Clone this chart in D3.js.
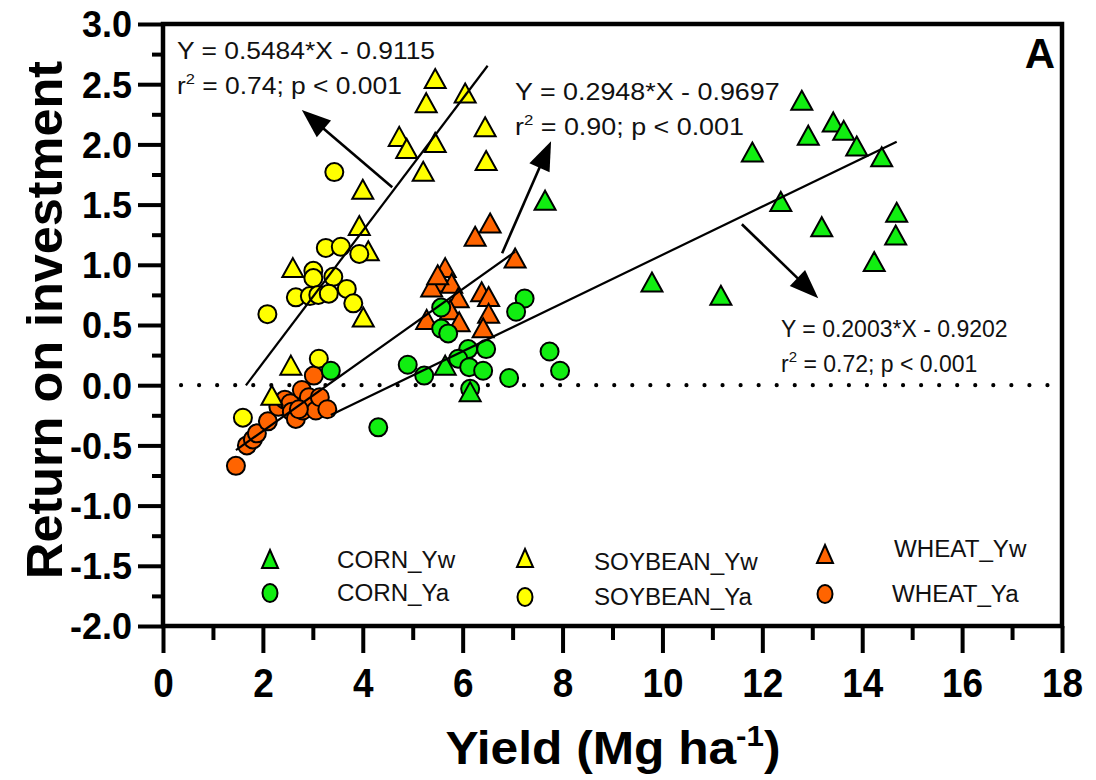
<!DOCTYPE html>
<html><head><meta charset="utf-8">
<script src="https://cdn.jsdelivr.net/npm/d3@7/dist/d3.min.js"></script>
<style>body{margin:0;background:#fff}svg{display:block}</style>
</head><body><svg id="c" width="1096" height="780"></svg>
<script>
// ---------------- DATA ----------------
const cornYwX = [12.79,13.42,12.92,13.63,13.89,14.39,11.80,12.37,14.69,13.19,14.67,14.24,9.79,11.17,7.65,5.65,6.15];
const cornYwY = [2.35,2.17,2.06,2.10,1.97,1.88,1.92,1.51,1.42,1.30,1.23,1.01,0.84,0.73,1.52,0.15,-0.07];
const cornYaX = [5.57,5.57,5.71,7.24,7.07,6.11,6.47,5.91,6.13,6.41,4.90,5.23,6.93,7.74,7.95,6.15,4.31,3.36];
const cornYaY = [0.645,0.47,0.43,0.72,0.61,0.30,0.30,0.22,0.15,0.12,0.17,0.08,0.06,0.28,0.12,-0.03,-0.35,0.12];
const soyYwX = [5.45,5.27,6.05,4.73,4.88,5.45,5.21,6.45,6.47,4.00,3.93,4.11,2.60,4.01,2.56,2.18];
const soyYwY = [2.53,2.33,2.41,2.05,1.95,2.00,1.76,2.13,1.85,1.61,1.31,1.10,0.96,0.55,0.15,-0.10];
const soyYaX = [3.43,3.26,3.56,3.93,3.01,3.01,3.41,3.68,2.66,2.94,3.11,3.32,3.81,2.09,3.12,1.60];
const soyYaY = [1.77,1.14,1.15,1.09,0.95,0.89,0.90,0.80,0.73,0.74,0.75,0.76,0.68,0.59,0.22,-0.27];
const wheatYwX = [6.55,6.25,7.05,5.65,5.58,5.38,5.78,5.91,6.38,6.52,6.52,6.41,5.28,5.75,5.93,5.50];
const wheatYwY = [1.33,1.22,1.04,0.96,0.84,0.80,0.83,0.71,0.76,0.72,0.58,0.46,0.53,0.61,0.51,0.90];
const wheatYaX = [1.46,1.68,1.80,1.88,2.10,2.31,2.44,2.55,2.58,2.66,2.78,2.80,2.92,3.02,3.06,3.14,3.29,2.72];
const wheatYaY = [-0.67,-0.50,-0.45,-0.40,-0.30,-0.18,-0.12,-0.15,-0.22,-0.28,-0.04,-0.21,-0.10,0.08,-0.21,-0.10,-0.20,-0.20];

const seriesNames = ["CORN_Yw","CORN_Ya","SOYBEAN_Yw","SOYBEAN_Ya","WHEAT_Yw","WHEAT_Ya"];

// regression fits: slope, intercept, x-range drawn
const fitSlopes = [0.5484, 0.2948, 0.2003];
const fitIntercepts = [-0.9115, -0.9697, -0.9202];
const fitFrom = [1.66, 1.46, 3.36];
const fitTo = [6.50, 7.05, 14.69];
const fitLine1 = ["Y = 0.5484*X - 0.9115", "Y = 0.2948*X - 0.9697", "Y = 0.2003*X - 0.9202"];
const fitR2 = ["0.74", "0.90", "0.72"];

const xTickValues = [0,2,4,6,8,10,12,14,16,18];
const xMinorTicks = [1,3,5,7,9,11,13,15,17];
const yTickValues = [-2.0,-1.5,-1.0,-0.5,0.0,0.5,1.0,1.5,2.0,2.5,3.0];
const yMinorTicks = [-1.75,-1.25,-0.75,-0.25,0.25,0.75,1.25,1.75,2.25,2.75];

// ---------------- LAYOUT ----------------
const FONT = "'Liberation Sans', Arial, Helvetica, sans-serif";
const svg = d3.select("#c");
const x = d3.scaleLinear().domain([0,18]).range([163,1062]);
const y = d3.scaleLinear().domain([-2,3]).range([626,24]);

const colors = {CORN:"#11ee11", SOYBEAN:"#ffff00", WHEAT:"#ff6400"};
const triPath = "M0,-11.5L10.5,7.5L-10.5,7.5Z";
const triPathSmall = "M0,-10L8,8L-8,8Z";

// ---------- zero dotted line ----------
svg.append("line")
  .attr("x1", x(0)).attr("x2", x(18)).attr("y1", y(0)).attr("y2", y(0))
  .attr("stroke","#000").attr("stroke-width",4.2).attr("stroke-linecap","round")
  .attr("stroke-dasharray","0 18.05");

// ---------- points ----------
const series = [
  {name:"WHEAT_Ya", shape:"circle", color:colors.WHEAT, xs:wheatYaX, ys:wheatYaY},
  {name:"WHEAT_Yw", shape:"tri", color:colors.WHEAT, xs:wheatYwX, ys:wheatYwY},
  {name:"SOYBEAN_Yw", shape:"tri", color:colors.SOYBEAN, xs:soyYwX, ys:soyYwY},
  {name:"SOYBEAN_Ya", shape:"circle", color:colors.SOYBEAN, xs:soyYaX, ys:soyYaY},
  {name:"CORN_Ya", shape:"circle", color:colors.CORN, xs:cornYaX, ys:cornYaY},
  {name:"CORN_Yw", shape:"tri", color:colors.CORN, xs:cornYwX, ys:cornYwY}
];
series.forEach(s => {
  const pts = s.xs.map((v,i)=>({x:v, y:s.ys[i]}));
  const g = svg.append("g");
  if (s.shape === "circle") {
    g.selectAll("circle").data(pts).join("circle")
      .attr("cx", d=>x(d.x)).attr("cy", d=>y(d.y)).attr("r", 9)
      .attr("fill", s.color).attr("stroke","#000").attr("stroke-width",2);
  } else {
    g.selectAll("path").data(pts).join("path")
      .attr("d", triPath)
      .attr("transform", d=>`translate(${x(d.x)},${y(d.y)})`)
      .attr("fill", s.color).attr("stroke","#000").attr("stroke-width",2).attr("stroke-linejoin","miter");
  }
});

// ---------- regression lines ----------
fitSlopes.forEach((m,i)=>{
  const x0 = fitFrom[i], x1 = fitTo[i];
  svg.append("line")
    .attr("x1", x(x0)).attr("y1", y(m*x0+fitIntercepts[i]))
    .attr("x2", x(x1)).attr("y2", y(m*x1+fitIntercepts[i]))
    .attr("stroke","#000").attr("stroke-width",2.2);
});

// ---------- arrows (data coordinates of start and tip) ----------
const arrowFrom = [[4.59,1.645],[6.79,1.096],[11.59,1.337]];
const arrowTo = [[2.78,2.285],[7.77,2.027],[13.12,0.723]];
arrowFrom.forEach((a,i)=>{
  const sx = x(a[0]), sy = y(a[1]), tx = x(arrowTo[i][0]), ty = y(arrowTo[i][1]);
  const ang = Math.atan2(ty-sy, tx-sx);
  const L = 29, W = 11;
  const bx = tx - L*Math.cos(ang), by = ty - L*Math.sin(ang);
  svg.append("line").attr("x1",sx).attr("y1",sy).attr("x2",bx+3*Math.cos(ang)).attr("y2",by+3*Math.sin(ang))
    .attr("stroke","#000").attr("stroke-width",2.6);
  const p1 = [bx + W*Math.sin(ang), by - W*Math.cos(ang)];
  const p2 = [bx - W*Math.sin(ang), by + W*Math.cos(ang)];
  svg.append("path").attr("d",`M${tx},${ty}L${p1[0]},${p1[1]}L${p2[0]},${p2[1]}Z`).attr("fill","#000");
});

// ---------- annotations ----------
const annPos = [[177,59],[515,100],[781,337]];
const annScale = [1.1,1.12,1.0];
const annGap = 35;
annPos.forEach((p,i)=>{
  const g = svg.append("g").attr("transform",`translate(${p[0]},${p[1]}) scale(${annScale[i]},1)`)
    .attr("font-family",FONT).attr("font-size",i<2?24:23).attr("fill","#111");
  g.append("text").attr("x",0).attr("y",0).text(fitLine1[i]);
  const t = g.append("text").attr("x",0).attr("y",annGap);
  t.append("tspan").text("r");
  t.append("tspan").attr("font-size",15).attr("dy",-10).text("2");
  t.append("tspan").attr("dy",10).text(" = " + fitR2[i] + "; p < 0.001");
});

// ---------- axes ----------
const yAxis = d3.axisLeft(y).tickValues(yTickValues).tickSize(25).tickPadding(6)
  .tickFormat(d=>d.toFixed(1));
const gy = svg.append("g").attr("transform",`translate(${x(0)},0)`).call(yAxis);
gy.select(".domain").remove();
gy.selectAll(".tick line").attr("stroke","#000").attr("stroke-width",4);
gy.selectAll(".tick text").attr("font-family",FONT).attr("font-weight","bold").attr("font-size",36)
  .attr("fill","#000").attr("dy","0.36em");
const gy2 = svg.append("g").attr("transform",`translate(${x(0)},0)`)
  .call(d3.axisLeft(y).tickValues(yMinorTicks).tickSize(11).tickFormat(""));
gy2.select(".domain").remove();
gy2.selectAll(".tick line").attr("stroke","#000").attr("stroke-width",4);

const xAxis = d3.axisBottom(x).tickValues(xTickValues).tickSize(27).tickPadding(15).tickFormat(d3.format("d"));
const gx = svg.append("g").attr("transform",`translate(0,${y(-2)})`).call(xAxis);
gx.select(".domain").remove();
gx.selectAll(".tick line").attr("stroke","#000").attr("stroke-width",4);
gx.selectAll(".tick text").attr("font-family",FONT).attr("font-weight","bold").attr("font-size",41)
  .attr("fill","#000").attr("transform","scale(0.9,1)");
const gx2 = svg.append("g").attr("transform",`translate(0,${y(-2)})`)
  .call(d3.axisBottom(x).tickValues(xMinorTicks).tickSize(14).tickFormat(""));
gx2.select(".domain").remove();
gx2.selectAll(".tick line").attr("stroke","#000").attr("stroke-width",4);

// frame
svg.append("rect").attr("x",x(0)).attr("y",y(3)).attr("width",x(18)-x(0)).attr("height",y(-2)-y(3))
  .attr("fill","none").attr("stroke","#000").attr("stroke-width",4.5);

// axis titles
svg.append("text").attr("transform","translate(62,320) rotate(-90)")
  .attr("text-anchor","middle").attr("font-family",FONT).attr("font-weight","bold").attr("font-size",50)
  .attr("textLength",518).attr("lengthAdjust","spacingAndGlyphs")
  .text("Return on investment");
const xt = svg.append("text").attr("transform","translate(613,764) scale(1.08,1)")
  .attr("text-anchor","middle").attr("font-family",FONT).attr("font-weight","bold").attr("font-size",46);
xt.append("tspan").text("Yield (Mg ha");
xt.append("tspan").attr("font-size",29).attr("dy",-18).text("-1");
xt.append("tspan").attr("dy",18).text(")");

// panel letter
svg.append("text").attr("x",1055).attr("y",68).attr("text-anchor","end")
  .attr("font-family",FONT).attr("font-weight","bold").attr("font-size",42).text("A");

// ---------- legend ----------
const legendPos = {
  "CORN_Yw":[270,560,337,568], "CORN_Ya":[270,593,337,601],
  "SOYBEAN_Yw":[525,559,594,570], "SOYBEAN_Ya":[525,597,594,605],
  "WHEAT_Yw":[825,555,894,557], "WHEAT_Ya":[825,594,892,602]
};
series.forEach(s=>{
  const p = legendPos[s.name];
  if (s.shape==="circle") {
    svg.append("ellipse").attr("cx",p[0]).attr("cy",p[1]).attr("rx",7.5).attr("ry",9)
      .attr("fill",s.color).attr("stroke","#000").attr("stroke-width",2);
  } else {
    svg.append("path").attr("d",triPathSmall).attr("transform",`translate(${p[0]},${p[1]})`)
      .attr("fill",s.color).attr("stroke","#000").attr("stroke-width",2);
  }
  svg.append("text").attr("transform",`translate(${p[2]},${p[3]}) scale(1.05,1)`)
    .attr("font-family",FONT).attr("font-size",23).attr("fill","#111").text(s.name);
});
</script></body></html>
